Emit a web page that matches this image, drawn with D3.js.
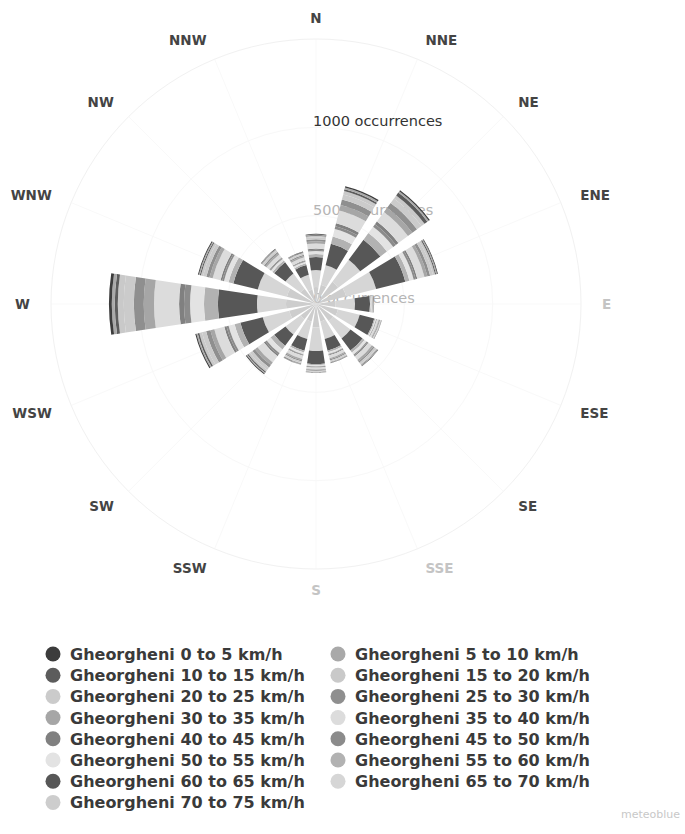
<!DOCTYPE html>
<html>
<head>
<meta charset="utf-8">
<script src="https://cdn.jsdelivr.net/npm/d3@7"></script>
<style>
  body { margin: 0; background: #fff; }
  svg { display: block; }
</style>
</head>
<body>
<svg id="chart" width="685" height="834"></svg>
<script>
const directions = ['N', 'NNE', 'NE', 'ENE', 'E', 'ESE', 'SE', 'SSE', 'S', 'SSW', 'SW', 'WSW', 'W', 'WNW', 'NW', 'NNW'];
const speedBins = ['0 to 5', '5 to 10', '10 to 15', '15 to 20', '20 to 25', '25 to 30', '30 to 35', '35 to 40',
                   '40 to 45', '45 to 50', '50 to 55', '55 to 60', '60 to 65', '65 to 70', '70 to 75'];
const station = 'Gheorgheni';

// occurrences per direction (N .. NNW), one array per speed bin
const s0_5   = [3, 8, 7, 4, 1, 1, 2, 1, 1, 1, 5, 6, 16, 5, 2, 2];
const s5_10  = [4, 10, 10, 6, 1, 1, 3, 2, 2, 2, 6, 8, 17, 6, 2, 2];
const s10_15 = [4, 10, 20, 6, 1, 1, 3, 2, 2, 3, 6, 9, 17, 6, 3, 3];
const s15_20 = [8, 20, 21, 12, 1, 3, 7, 4, 3, 5, 12, 16, 34, 13, 6, 5];
const s20_25 = [12, 30, 32, 17, 2, 4, 10, 7, 4, 8, 18, 24, 57, 19, 9, 7];
const s25_30 = [11, 31, 33, 16, 2, 4, 9, 7, 4, 8, 17, 25, 56, 18, 9, 7];
const s30_35 = [12, 32, 31, 17, 2, 4, 10, 6, 4, 7, 18, 23, 58, 19, 8, 7];
const s35_40 = [29, 75, 67, 42, 5, 10, 25, 16, 11, 19, 45, 58, 142, 46, 21, 18];
const s40_45 = [7, 17, 18, 10, 1, 2, 6, 4, 3, 4, 10, 13, 28, 10, 5, 4];
const s45_50 = [7, 16, 18, 11, 1, 2, 6, 4, 3, 4, 10, 12, 34, 10, 5, 4];
const s50_55 = [17, 44, 45, 25, 3, 6, 15, 10, 7, 11, 27, 35, 79, 27, 12, 10];
const s55_60 = [17, 43, 46, 24, 3, 6, 14, 10, 7, 11, 26, 34, 79, 28, 12, 10];
const s60_65 = [74, 125, 142, 170, 85, 85, 85, 68, 74, 68, 79, 130, 221, 142, 79, 57];
const s65_70 = [96, 113, 155, 175, 110, 127, 121, 102, 133, 102, 107, 155, 164, 170, 107, 85];
const s70_75 = [96, 113, 156, 176, 111, 128, 122, 102, 133, 102, 108, 156, 170, 170, 108, 85];

const seriesValues = [s0_5, s5_10, s10_15, s15_20, s20_25, s25_30, s30_35, s35_40,
                      s40_45, s45_50, s50_55, s55_60, s60_65, s65_70, s70_75];
const seriesColors = ['#3c3c3c', '#a9a9a9', '#5c5c5c', '#c9c9c9', '#cbcbcb', '#8f8f8f', '#a6a6a6', '#dcdcdc',
                      '#808080', '#8b8b8b', '#e3e3e3', '#b2b2b2', '#575757', '#d6d6d6', '#cdcdcd'];

const radialTicks = [0, 500, 1000];
const radialMax = 1500;

const cx = 316, cy = 304, outerR = 265;
const svg = d3.select('#chart');

// rows: one object per direction, keyed by speed bin
const rows = directions.map((d, i) => {
    const row = { dir: d };
    speedBins.forEach((b, j) => row[b] = seriesValues[j][i]);
    return row;
});

const r = d3.scaleLinear().domain([0, radialMax]).range([0, outerR]);
const step = 2 * Math.PI / directions.length;
const angle = d3.scaleBand()
    .domain(directions)
    .range([-step / 2, 2 * Math.PI - step / 2])
    .paddingInner(0.24)
    .paddingOuter(0.12);
const color = d3.scaleOrdinal().domain(speedBins).range(seriesColors);

const g = svg.append('g').attr('transform', `translate(${cx},${cy})`);

// grid, barely visible like the original
g.append('g').selectAll('line')
    .data(directions)
    .join('line')
    .attr('x1', 0).attr('y1', 0)
    .attr('x2', (d, i) => outerR * Math.sin(i * step))
    .attr('y2', (d, i) => -outerR * Math.cos(i * step))
    .attr('stroke', '#f9f9f9');

g.append('g').selectAll('circle')
    .data(radialTicks.slice(1).concat([radialMax]))
    .join('circle')
    .attr('r', d => r(d))
    .attr('fill', 'none')
    .attr('stroke', (d) => d === radialMax ? '#f1f1f1' : '#f8f8f8');

// radial axis labels
g.append('g').selectAll('text')
    .data(radialTicks)
    .join('text')
    .attr('x', -3)
    .attr('y', d => -r(d) - 1)
    .attr('font-family', 'DejaVu Sans, sans-serif')
    .attr('font-size', 14.5)
    .attr('fill', d => d === 1000 ? '#333' : '#b5b5b5')
    .text(d => `${d} occurrences`);

// stacked bars, last speed bin innermost
const stack = d3.stack().keys(speedBins.slice().reverse());
const layers = stack(rows);

const arc = d3.arc()
    .innerRadius(d => r(d[0]))
    .outerRadius(d => r(d[1]))
    .startAngle(d => angle(d.data.dir))
    .endAngle(d => angle(d.data.dir) + angle.bandwidth());

g.append('g').selectAll('g')
    .data(layers)
    .join('g')
    .attr('fill', d => color(d.key))
    .selectAll('path')
    .data(d => d)
    .join('path')
    .attr('d', arc);

// direction labels
const faint = ['E', 'SSE', 'S'];
const labelR = 286;
g.append('g').selectAll('text')
    .data(directions)
    .join('text')
    .attr('x', (d, i) => labelR * Math.sin(i * step))
    .attr('y', (d, i) => -labelR * Math.cos(i * step) + 5)
    .attr('text-anchor', (d, i) => {
        const s = Math.sin(i * step);
        return Math.abs(s) < 0.01 ? 'middle' : (s > 0 ? 'start' : 'end');
    })
    .attr('font-family', 'DejaVu Sans, sans-serif')
    .attr('font-weight', 'bold')
    .attr('font-size', 13.5)
    .attr('fill', d => faint.includes(d) ? '#c4c4c4' : '#444')
    .text(d => d);

// legend
const legend = svg.append('g').attr('transform', 'translate(53,654)');
const item = legend.selectAll('g')
    .data(speedBins)
    .join('g')
    .attr('transform', (d, i) => `translate(${(i % 2) * 285},${Math.floor(i / 2) * 21.2})`);

item.append('circle')
    .attr('r', 7.5)
    .attr('fill', d => color(d));

item.append('text')
    .attr('x', 17)
    .attr('y', 6)
    .attr('font-family', 'DejaVu Sans, sans-serif')
    .attr('font-weight', 'bold')
    .attr('font-size', 16)
    .attr('fill', '#3a3a3a')
    .text(d => `${station} ${d} km/h`);

svg.append('text')
    .attr('x', 680)
    .attr('y', 818)
    .attr('text-anchor', 'end')
    .attr('font-family', 'DejaVu Sans, sans-serif')
    .attr('font-size', 11)
    .attr('fill', '#c8c8c8')
    .text('meteoblue');
</script>
</body>
</html>
